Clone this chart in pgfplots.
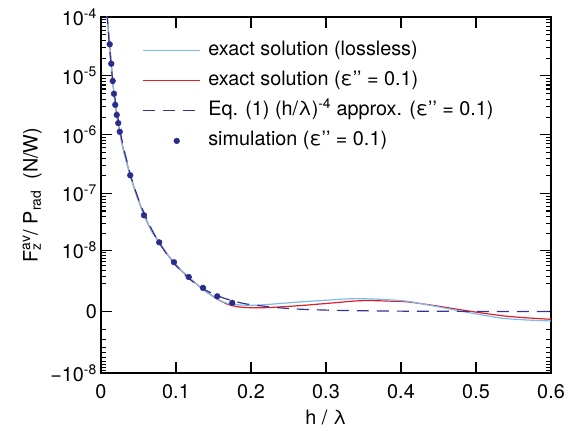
\documentclass[border=0pt]{standalone}
\usepackage{fontspec}
\setmainfont{TeX Gyre Heros}
\usepackage{pgfplots}
\pgfplotsset{compat=1.18}

\newcommand{\ff}{\fontsize{19.8}{23}\selectfont}
\definecolor{lossless}{RGB}{125,188,234}
\definecolor{lossy}{RGB}{222,32,38}
\definecolor{approx}{RGB}{52,52,150}
\definecolor{simdot}{RGB}{40,45,140}
\pgfplotsset{
  linelegend/.style={legend image code/.code={\draw[##1] (0pt,0pt) -- (57pt,0pt);}},
  dotlegend/.style={legend image code/.code={\draw[##1] plot coordinates {(34pt,0pt)};}},
}

\begin{document}
\begin{tikzpicture}
\begin{axis}[
  name=ax,
  scale only axis,
  width=450pt, height=356pt,
  xmin=0, xmax=0.6,
  ymin=-1.04139, ymax=5,
  % symmetric log scale: linear near 0, log above 1e-8
  y filter/.expression={ln(1+abs(y)*1e9)/ln(10)*(y<0 ? -1 : 1)},
  xtick={0,0.1,0.2,0.3,0.4,0.5,0.6},
  xticklabels={0,0.1,0.2,0.3,0.4,0.5,0.6},
  ytick={-1.04139,0,1.04139,2.00432,3.00043,4.00004,5},
  yticklabels={−10\textsuperscript{-8},0,10\textsuperscript{-8},10\textsuperscript{-7},10\textsuperscript{-6},10\textsuperscript{-5},10\textsuperscript{-4}},
  minor ytick={-0.30103,-0.47712,-0.60206,-0.69897,-0.77815,-0.84510,-0.90309,-0.95424,-1.0,
    0.47712,0.60206,0.69897,0.77815,0.84510,0.90309,0.95424,1.0,
    1.32222,1.49136,1.61278,1.70757,1.78533,1.85126,1.90849,1.95904,
    2.30320,2.47857,2.60314,2.69984,2.77887,2.84572,2.90363,2.95472,
    3.30125,3.47727,3.60217,3.69906,3.77822,3.84516,3.90314,3.95429,
    4.30103,4.47712,4.60206,4.69897,4.77815,4.84510,4.90309,4.95424},
  tick align=inside,
  tick pos=both,
  major tick length=11pt,
  minor tick length=5pt,
  tick style={line width=1.1pt, black},
  axis line style={line width=1.8pt},
  xticklabel style={font=\ff, inner sep=0pt, yshift=-11pt},
  yticklabel style={font=\ff, inner sep=0pt, xshift=-4pt},
  xlabel={h / λ},
  ylabel={F\rlap{\textsubscript{z}}\textsuperscript{av}/ P\textsubscript{rad}\ \ (N/W)},
  xlabel style={font=\ff, at={(axis description cs:0.5,0)}, anchor=north, inner sep=0pt, yshift=-37pt},
  ylabel style={font=\ff, at={(axis description cs:-0.131,0.5)}, anchor=south, inner sep=0pt},
  legend cell align=left,
  legend style={draw=none, fill=none, font=\ff,
    at={(axis description cs:0.091,0.9475)}, anchor=north west,
    inner xsep=0pt, inner ysep=0pt, row sep=0pt, column sep=4pt,
    nodes={inner xsep=4pt, inner ysep=6pt, text height=14pt, text depth=4pt}},
  linelegend,
]
% red drawn first so the lossless curve lies on top
\addplot[lossy, line width=1.2pt, smooth, forget plot] coordinates {
  (0.008,1.3e-4)(0.0084,1.0e-4)(0.01,5.6e-5)(0.0116,3.4e-5)(0.0137,1.6e-5)
  (0.0156,8.4e-6)(0.0173,5.0e-6)(0.019,3.3e-6)(0.021,2.2e-6)(0.023,1.55e-6)
  (0.025,1.12e-6)(0.03,5.5e-7)(0.039,2.05e-7)(0.048,9.0e-8)(0.0573,4.3e-8)
  (0.067,2.3e-8)(0.0776,1.4e-8)(0.0875,8.7e-9)(0.0973,5.8e-9)(0.107,4.0e-9)
  (0.117,2.8e-9)(0.1265,2.0e-9)(0.1364,1.37e-9)(0.145,0.98e-9)(0.154,0.66e-9)
  (0.163,0.44e-9)(0.172,0.29e-9)(0.185,0.20e-9)(0.2,0.165e-9)(0.221,0.17e-9)
  (0.2653,0.265e-9)(0.31,0.41e-9)(0.34,0.52e-9)(0.36,0.54e-9)(0.39,0.50e-9)
  (0.41,0.46e-9)(0.4476,0.25e-9)(0.492,0.015e-9)(0.5364,-0.18e-9)
  (0.57,-0.28e-9)(0.6,-0.35e-9)};
\addplot[lossless, line width=1.2pt, smooth] coordinates {
  (0.008,1.3e-4)(0.0084,1.0e-4)(0.01,5.6e-5)(0.0116,3.4e-5)(0.0137,1.6e-5)
  (0.0156,8.4e-6)(0.0173,5.0e-6)(0.019,3.3e-6)(0.021,2.2e-6)(0.023,1.55e-6)
  (0.025,1.12e-6)(0.03,5.5e-7)(0.039,2.05e-7)(0.048,9.0e-8)(0.0573,4.3e-8)
  (0.067,2.3e-8)(0.0776,1.4e-8)(0.0875,8.7e-9)(0.0973,5.8e-9)(0.107,4.0e-9)
  (0.117,2.8e-9)(0.1265,2.0e-9)(0.1364,1.37e-9)(0.145,0.98e-9)(0.154,0.66e-9)
  (0.163,0.46e-9)(0.172,0.35e-9)(0.185,0.30e-9)(0.2,0.28e-9)(0.221,0.32e-9)
  (0.2653,0.46e-9)(0.31,0.59e-9)(0.335,0.66e-9)(0.36,0.64e-9)(0.39,0.57e-9)
  (0.41,0.49e-9)(0.4476,0.22e-9)(0.483,0.0)(0.51,-0.15e-9)(0.5364,-0.30e-9)
  (0.57,-0.39e-9)(0.6,-0.44e-9)};
\addlegendentry{exact solution (lossless)}
\addlegendimage{lossy, line width=1.2pt}
\addlegendentry{exact solution (ε’’ = 0.1)}
\addplot[approx, line width=1.2pt, dash pattern=on 12pt off 8pt, smooth] coordinates {
  (0.008,1.22e-4)(0.0084,1.0e-4)(0.01,5.0e-5)(0.012,2.41e-5)(0.015,9.88e-6)
  (0.02,3.13e-6)(0.025,1.28e-6)(0.03,6.17e-7)(0.04,1.95e-7)(0.05,8.0e-8)
  (0.06,3.86e-8)(0.07,2.08e-8)(0.08,1.22e-8)(0.09,7.62e-9)(0.1,5.0e-9)
  (0.12,2.41e-9)(0.14,1.30e-9)(0.16,7.63e-10)(0.18,4.76e-10)(0.2,3.13e-10)
  (0.25,1.28e-10)(0.3,6.17e-11)(0.35,3.33e-11)(0.4,1.95e-11)(0.5,8.0e-12)
  (0.6,3.86e-12)};
\addlegendentry{Eq. (1) (h/λ)\textsuperscript{-4} approx. (ε’’ = 0.1)}
\addplot[only marks, mark=*, mark size=2.9pt, simdot, dotlegend] coordinates {
  (0.0116,3.44e-5)(0.0137,1.61e-5)(0.0156,8.2e-6)(0.0173,4.98e-6)(0.019,3.23e-6)
  (0.021,2.18e-6)(0.023,1.58e-6)(0.025,1.13e-6)(0.039,2.05e-7)(0.0573,4.22e-8)
  (0.0776,1.4e-8)(0.0973,5.9e-9)(0.117,2.87e-9)(0.136,1.53e-9)(0.155,8.2e-10)
  (0.175,4.1e-10)};
\addlegendentry{simulation (ε’’ = 0.1)}
\end{axis}
\pgfresetboundingbox
\path ([shift={(-101pt,-58pt)}]ax.south west) rectangle ([shift={(33pt,17pt)}]ax.north east);
\end{tikzpicture}
\end{document}
